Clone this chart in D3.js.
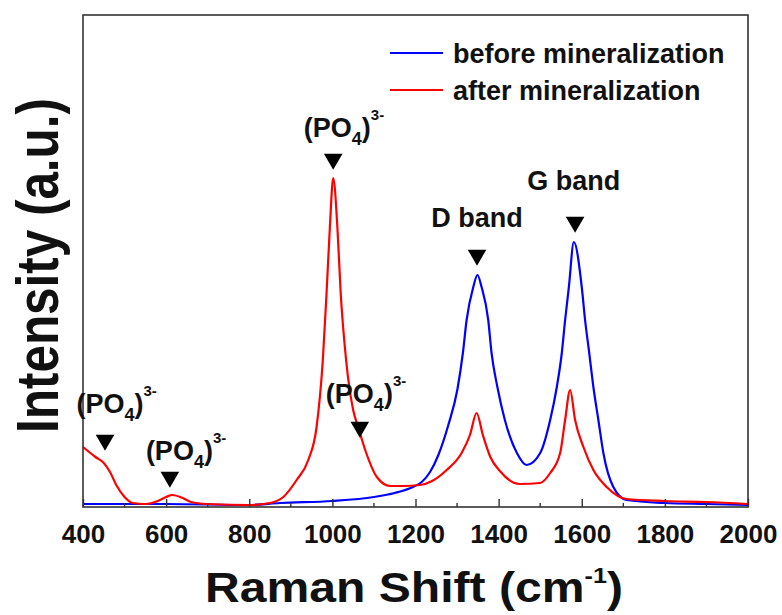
<!DOCTYPE html>
<html>
<head>
<meta charset="utf-8">
<script src="https://cdn.jsdelivr.net/npm/d3@7"></script>
<style>
  body { margin: 0; background: #fff; }
  text { font-family: "Liberation Sans", Arial, sans-serif; font-weight: bold; fill: #111; }
</style>
</head>
<body>
<div id="chart"></div>
<script>
// spectra (wavenumber in cm-1, intensity in a.u.)
const beforeWn = [400, 600, 800, 874, 1000, 1100, 1150, 1194, 1215, 1235, 1255, 1279, 1301, 1314, 1323, 1339, 1349, 1359, 1375, 1383, 1397, 1415, 1444, 1467, 1500, 1524, 1540, 1552, 1560, 1569, 1581, 1600, 1608, 1618, 1628, 1640, 1652, 1676, 1708, 1800, 1900, 2000];
const beforeI  = [3, 3, 2, 4, 6, 10, 14, 20, 25, 35, 52, 82, 118, 154, 187, 220, 232, 220, 187, 154, 120, 87, 54, 42, 54, 87, 120, 154, 187, 220, 265, 220, 187, 154, 120, 87, 54, 20, 7, 4, 3, 2];

const afterWn = [400, 430, 450, 465, 480, 500, 520, 550, 580, 600, 615, 640, 660, 700, 800, 850, 882, 914, 942, 962, 977, 986, 994, 1002, 1012, 1020, 1033, 1050, 1062, 1079, 1107, 1139, 1170, 1211, 1240, 1275, 1311, 1331, 1347, 1362, 1380, 1403, 1451, 1500, 1524, 1548, 1560, 1572, 1584, 1604, 1628, 1660, 1708, 1800, 1900, 2000];
const afterI  = [60, 50, 44, 35, 22, 10, 4, 3, 6, 10, 12, 9, 5, 3, 2, 4, 10, 27, 47, 80, 147, 214, 280, 329, 280, 214, 147, 97, 80, 57, 30, 21, 21, 22, 26, 37, 54, 72, 94, 72, 50, 36, 23, 24, 34, 54, 87, 117, 87, 60, 37, 20, 8, 6, 5, 3];

const seriesNames = ["before mineralization", "after mineralization"];
const seriesColors = ["#0000ff", "#ff0000"];

const xTicks = [400, 600, 800, 1000, 1200, 1400, 1600, 1800, 2000];

// peak markers: marker wavenumber, tip level, label centre wavenumber, label baseline level
const markerText = ["PO4", "PO4", "PO4", "PO4", "D band", "G band"];
const markerWn = [453, 609, 1002, 1066, 1348, 1584];
const markerTip = [59, 22, 340, 72, 244, 277];
const labelWn = [481, 648, 1028, 1081, 1348, 1581];
const labelLevel = [94, 47, 370, 104, 280, 317];

const W = 782, H = 615;
const margin = { top: 15, right: 34, bottom: 108, left: 83 };
const width = W - margin.left - margin.right,
      height = H - margin.top - margin.bottom;

const svg = d3.select("#chart").append("svg")
    .attr("width", W)
    .attr("height", H);

const g = svg.append("g")
    .attr("transform", "translate(" + margin.left + "," + margin.top + ")");

const x = d3.scaleLinear().domain([400, 2000]).range([0, width]);
const y = d3.scaleLinear().domain([0, height]).range([height, 0]);

// curves
const line = d3.line()
    .x(d => x(d[0]))
    .y(d => y(d[1]))
    .curve(d3.curveMonotoneX);

const curves = [d3.zip(beforeWn, beforeI), d3.zip(afterWn, afterI)];
g.selectAll(".spec")
    .data(curves)
    .join("path")
    .attr("class", "spec")
    .attr("d", line)
    .attr("fill", "none")
    .attr("stroke", (d, i) => seriesColors[i])
    .attr("stroke-width", 2.2)
    .attr("stroke-linejoin", "round");

// frame
g.append("rect")
    .attr("width", width)
    .attr("height", height)
    .attr("fill", "none")
    .attr("stroke", "#333")
    .attr("stroke-width", 1.6);

// bottom axis, ticks pointing inward
const axeX = d3.axisBottom(x)
    .tickValues(xTicks)
    .tickSize(-8)
    .tickPadding(18)
    .tickFormat(d3.format("d"));
const gx = g.append("g")
    .attr("transform", "translate(0," + height + ")")
    .call(axeX);
gx.select(".domain").remove();
gx.selectAll(".tick line").attr("stroke", "#333").attr("stroke-width", 1.4);
gx.selectAll(".tick text")
    .attr("font-size", 26)
    .attr("font-family", "Liberation Sans, Arial, sans-serif")
    .attr("font-weight", "bold")
    .attr("fill", "#111");

const minor = d3.range(500, 2000, 200);
g.selectAll(".minor")
    .data(minor)
    .join("line")
    .attr("class", "minor")
    .attr("x1", d => x(d)).attr("x2", d => x(d))
    .attr("y1", height).attr("y2", height - 4)
    .attr("stroke", "#333")
    .attr("stroke-width", 1.4);

// markers
const tri = d3.symbol().type(d3.symbolTriangle).size(150);
markerWn.forEach((wn, i) => {
    g.append("path")
        .attr("d", tri)
        .attr("transform", "translate(" + x(wn) + "," + (y(markerTip[i]) - 8) + ") rotate(180)")
        .attr("fill", "#000");

    const t = g.append("text")
        .attr("x", x(labelWn[i]))
        .attr("y", y(labelLevel[i]))
        .attr("text-anchor", "middle")
        .attr("font-size", 27);
    if (markerText[i] === "PO4") {
        t.append("tspan").text("(PO");
        t.append("tspan").attr("font-size", 18).attr("dy", 8).text("4");
        t.append("tspan").attr("dy", -8).text(")");
        t.append("tspan").attr("font-size", 15).attr("dy", -17).text("3-");
    } else {
        t.text(markerText[i]);
    }
});

// legend
const leg = svg.append("g").attr("transform", "translate(390,53)");
seriesNames.forEach((name, i) => {
    const row = leg.append("g").attr("transform", "translate(0," + (i * 37) + ")");
    row.append("line")
        .attr("x1", 0).attr("x2", 53)
        .attr("stroke", seriesColors[i])
        .attr("stroke-width", 2.2);
    row.append("text")
        .attr("x", 63)
        .attr("y", 9.5)
        .attr("font-size", 27)
        .text(name);
});

// axis titles, stretched to the width they take in the figure
function fit(sel, target) {
    const w = sel.node().getBBox().width;
    return target / w;
}

const xt = svg.append("g");
const xtText = xt.append("text")
    .attr("text-anchor", "middle")
    .attr("font-size", 42);
xtText.append("tspan").text("Raman Shift (cm");
xtText.append("tspan").attr("font-size", 22).attr("dy", -19).text("-1");
xtText.append("tspan").attr("dy", 19).text(")");
xt.attr("transform", "translate(414,602) scale(" + fit(xtText, 418) + ",1)");

const yt = svg.append("g");
const ytText = yt.append("text")
    .attr("text-anchor", "middle")
    .attr("font-size", 60)
    .text("Intensity (a.u.)");
yt.attr("transform", "translate(58,265.5) rotate(-90) scale(" + fit(ytText, 335) + ",1)");
</script>
</body>
</html>
